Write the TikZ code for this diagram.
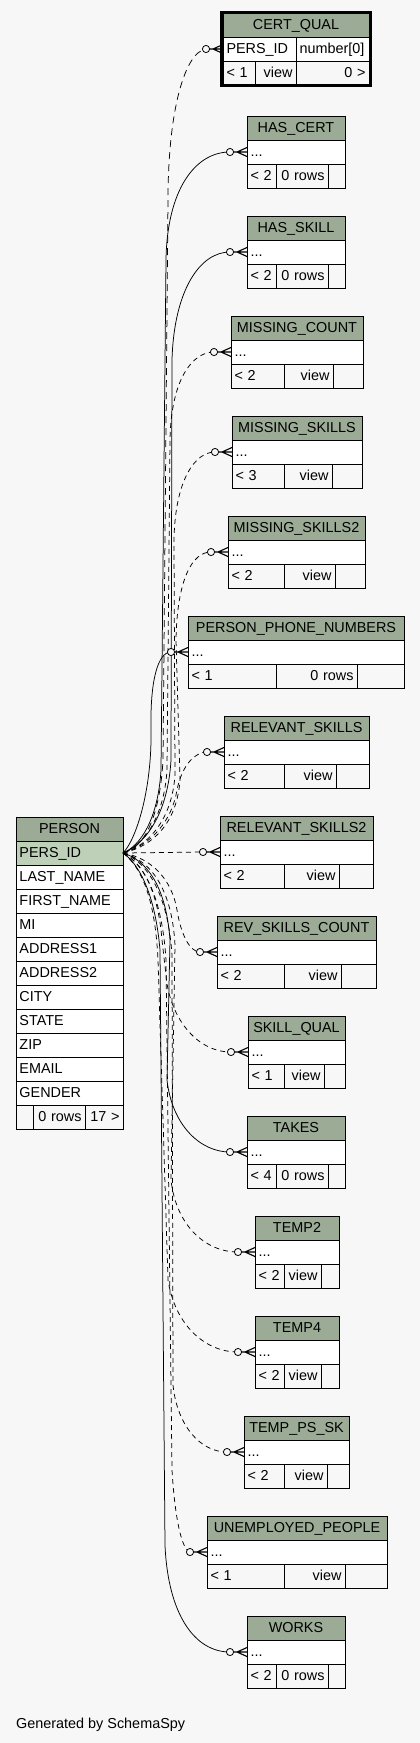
\documentclass[tikz,border=0pt]{standalone}
\usepackage{fontspec}
\setmainfont{Liberation Sans}
\definecolor{bg}{HTML}{F7F7F7}
\definecolor{hdr}{HTML}{9BAB96}
\definecolor{keyrow}{HTML}{BED1B8}
\tikzset{
  cellbase/.style={draw=black,line width=0.9pt,anchor=north west,minimum height=24pt,
    inner xsep=3.5pt,inner ysep=0pt,outer sep=0pt,text height=11pt,text depth=2.5pt,
    font=\fontsize{14.4}{16}\selectfont},
  hcell/.style={cellbase,fill=hdr},
  rcell/.style={cellbase,fill=white},
  kcell/.style={cellbase,fill=keyrow},
  fcell/.style={cellbase,fill=bg},
  rel/.style={line width=0.75pt},
  reldash/.style={rel,dash pattern=on 5pt off 4pt},
  crowline/.style={line width=1.1pt},
}
\newcommand\ercell[7]{\pgfmathsetmacro\erw{#4-7}%
  \node[#5,text width=\erw pt,minimum width=#4pt,align=#6] (#1) at (#2,#3) {#7};}
\newcommand\ertable[9]{%
  \pgfmathsetmacro\erxb{#2+#6}\pgfmathsetmacro\erxc{#2+#6+#7}%
  \pgfmathsetmacro\erwc{#4-#6-#7}\pgfmathsetmacro\erya{#3+24}\pgfmathsetmacro\eryb{#3+48}%
  \ercell{#1-h}{#2}{#3}{#4}{hcell}{center}{#5}%
  \ercell{#1}{#2}{\erya}{#4}{rcell}{left}{...}%
  \ercell{#1-fa}{#2}{\eryb}{#6}{fcell}{left}{\mbox{#8}}%
  \ercell{#1-fb}{\erxb}{\eryb}{#7}{fcell}{right}{\mbox{#9}}%
  \ercell{#1-fc}{\erxc}{\eryb}{\erwc}{fcell}{left}{}%
  \coordinate (#1-o) at ([xshift=-17pt]#1.west);}
\newcommand\crow[1]{%
  \draw[fill=bg,line width=0.8pt] (#1-o) circle[radius=3.6pt];
  \draw[crowline] ([xshift=-13.4pt]#1.west) -- ([xshift=-10pt]#1.west) -- ([yshift=4.5pt]#1.west)
    ([xshift=-10pt]#1.west) -- (#1.west)
    ([xshift=-10pt]#1.west) -- ([yshift=-4.5pt]#1.west);}
\begin{document}
\begin{tikzpicture}[x=1pt,y=-1pt]
\fill[bg] (0,0) rectangle (420,1743);
\useasboundingbox (0,0) rectangle (420,1743);

% CERT_QUAL
\ercell{cq-h}{223}{13}{146}{hcell}{center}{CERT\_QUAL}
\ercell{cq}{223}{37}{73}{rcell}{left}{PERS\_ID}
\ercell{cq-t}{296}{37}{73}{rcell}{left}{number[0]}
\ercell{cq-fa}{223}{61}{32}{fcell}{left}{\mbox{< 1}}
\ercell{cq-fb}{255}{61}{41}{fcell}{right}{view}
\ercell{cq-fc}{296}{61}{73}{fcell}{right}{\mbox{0 >}}
\coordinate (cq-o) at ([xshift=-17pt]cq.west);
\draw[line width=3pt] (221.5,12.5) rectangle (370.5,85.5);

\ertable{hc}{247}{116}{98}{HAS\_CERT}{29}{52}{< 2}{0 rows}
\ertable{hs}{247}{216}{98}{HAS\_SKILL}{29}{52}{< 2}{0 rows}
\ertable{mc}{231}{316}{132}{MISSING\_COUNT}{53}{49}{< 2}{view}
\ertable{ms}{232}{416}{130}{MISSING\_SKILLS}{52}{48}{< 3}{view}
\ertable{mst}{228}{516}{137}{MISSING\_SKILLS2}{56}{51}{< 2}{view}
\ertable{ppn}{188}{616}{216}{PERSON\_PHONE\_NUMBERS}{88}{81}{< 1}{0 rows}
\ertable{rs}{224}{716}{145}{RELEVANT\_SKILLS}{60}{52}{< 2}{view}
\ertable{rst}{220}{816}{153}{RELEVANT\_SKILLS2}{64}{55}{< 2}{view}
\ertable{rsc}{217}{916}{159}{REV\_SKILLS\_COUNT}{67}{57}{< 2}{view}
\ertable{sq}{248}{1016}{97}{SKILL\_QUAL}{36}{40}{< 1}{view}
\ertable{tk}{247}{1116}{98}{TAKES}{29}{52}{< 4}{0 rows}
\ertable{tt}{255}{1216}{84}{TEMP2}{29}{37}{< 2}{view}
\ertable{tf}{255}{1316}{84}{TEMP4}{29}{37}{< 2}{view}
\ertable{tps}{244}{1416}{105}{TEMP\_PS\_SK}{40}{43}{< 2}{view}
\ertable{up}{207}{1516}{180}{UNEMPLOYED\_PEOPLE}{77}{61}{< 1}{view}
\ertable{wk}{247}{1616}{98}{WORKS}{29}{52}{< 2}{0 rows}

% PERSON
\ercell{p-h}{16}{817}{107}{hcell}{center}{PERSON}
\ercell{pid}{16}{841}{107}{kcell}{left}{PERS\_ID}
\ercell{p-a}{16}{865}{107}{rcell}{left}{LAST\_NAME}
\ercell{p-b}{16}{889}{107}{rcell}{left}{FIRST\_NAME}
\ercell{p-c}{16}{913}{107}{rcell}{left}{MI}
\ercell{p-d}{16}{937}{107}{rcell}{left}{ADDRESS1}
\ercell{p-e}{16}{961}{107}{rcell}{left}{ADDRESS2}
\ercell{p-f}{16}{985}{107}{rcell}{left}{CITY}
\ercell{p-g}{16}{1009}{107}{rcell}{left}{STATE}
\ercell{p-i}{16}{1033}{107}{rcell}{left}{ZIP}
\ercell{p-j}{16}{1057}{107}{rcell}{left}{EMAIL}
\ercell{p-k}{16}{1081}{107}{rcell}{left}{GENDER}
\ercell{p-fa}{16}{1105}{17}{fcell}{left}{}
\ercell{p-fb}{33}{1105}{52}{fcell}{right}{\mbox{0 rows}}
\ercell{p-fc}{85}{1105}{38}{fcell}{right}{\mbox{17 >}}

% relationships (upward)
\draw[reldash,dash pattern=on 7pt off 5pt] (pid.east) .. controls (145,848) and (160,815) .. (163,760) -- (168,200) .. controls (168,110) and (185,52) .. (cq-o);
\draw[rel] (pid.east) .. controls (140,846) and (158,820) .. (161,770) -- (166,260) .. controls (167,190) and (195,152) .. (hc-o);
\draw[rel] (pid.east) .. controls (147,843) and (168,812) .. (171,760) -- (172,360) .. controls (174,290) and (200,252) .. (hs-o);
\draw[reldash] (pid.east) .. controls (143,846) and (164,818) .. (167,770) -- (170,440) .. controls (171,380) and (192,352) .. (mc-o);
\draw[reldash] (pid.east) .. controls (150,845) and (172,818) .. (175,775) -- (174,540) .. controls (175,480) and (195,452) .. (ms-o);
\draw[reldash] (pid.east) .. controls (154,846) and (177,822) .. (180,780) -- (176,640) .. controls (177,580) and (192,552) .. (mst-o);
\draw[rel] (pid.east) .. controls (136,840) and (152,790) .. (151,730) .. controls (150,680) and (158,652) .. (ppn-o);
\draw[reldash] (pid.east) .. controls (152,845) and (172,820) .. (177,790) .. controls (182,765) and (195,752) .. (rs-o);
\draw[reldash] (pid.east) -- (rst-o);
% relationships (downward)
\draw[reldash] (pid.east) .. controls (152,858) and (172,880) .. (177,910) .. controls (181,935) and (190,952) .. (rsc-o);
\draw[reldash] (pid.east) .. controls (142,862) and (158,890) .. (162,940) -- (166,975) .. controls (169,1015) and (195,1052) .. (sq-o);
\draw[rel] (pid.east) .. controls (146,860) and (166,885) .. (170,940) -- (167,1080) .. controls (172,1125) and (200,1152) .. (tk-o);
\draw[reldash] (pid.east) .. controls (150,860) and (172,888) .. (175,945) -- (171,1180) .. controls (176,1225) and (205,1252) .. (tt-o);
\draw[reldash] (pid.east) .. controls (140,866) and (155,895) .. (158,960) -- (168,1280) .. controls (175,1325) and (205,1352) .. (tf-o);
\draw[reldash] (pid.east) .. controls (148,862) and (168,895) .. (172,955) -- (173,1385) .. controls (177,1425) and (200,1452) .. (tps-o);
\draw[reldash] (pid.east) .. controls (144,864) and (162,896) .. (166,960) -- (172,1470) .. controls (175,1520) and (182,1550) .. (up-o);
\draw[rel] (pid.east) .. controls (138,863) and (155,892) .. (160,950) -- (165,1545) .. controls (168,1615) and (195,1652) .. (wk-o);

\crow{cq}\crow{hc}\crow{hs}\crow{mc}\crow{ms}\crow{mst}\crow{ppn}\crow{rs}\crow{rst}
\crow{rsc}\crow{sq}\crow{tk}\crow{tt}\crow{tf}\crow{tps}\crow{up}\crow{wk}

\node[anchor=base west,inner sep=0pt,font=\fontsize{14.4}{16}\selectfont] (gen) at (16,1728) {Generated by SchemaSpy};
\end{tikzpicture}
\end{document}
